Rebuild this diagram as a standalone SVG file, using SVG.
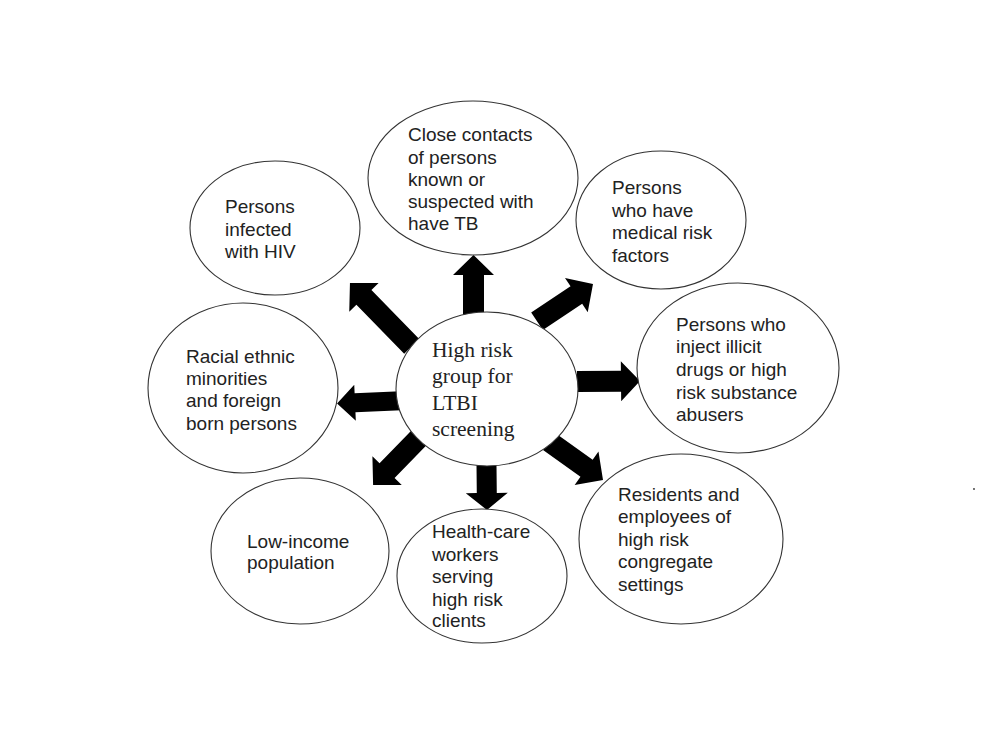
<svg xmlns="http://www.w3.org/2000/svg" width="994" height="748" viewBox="0 0 994 748">
<style>
.node ellipse{fill:#fff;stroke:#333;stroke-width:1.1}
.lbl{font-family:"Liberation Sans",Arial,sans-serif;font-size:19px;fill:#222}
.ctr{font-family:"Liberation Serif","Times New Roman",serif;font-size:21.5px;fill:#222}
.arr{fill:#000}
</style>
<rect width="994" height="748" fill="#fff"/>
<g id="connectors">
<path class="arr" transform="translate(473.5,313) rotate(-90)" d="M-6,-10.5 L38,-10.5 L38,-20.5 L58,0 L38,20.5 L38,10.5 L-6,10.5 Z"/>
<path class="arr" transform="translate(407.5,342) rotate(-134.3)" d="M-6,-10.5 L62.4,-10.5 L62.4,-20.5 L82.4,0 L62.4,20.5 L62.4,10.5 L-6,10.5 Z"/>
<path class="arr" transform="translate(542,318) rotate(-33.7)" d="M-6,-10.5 L41.3,-10.5 L41.3,-20.5 L61.3,0 L41.3,20.5 L41.3,10.5 L-6,10.5 Z"/>
<path class="arr" transform="translate(583,381.5) rotate(-0.5)" d="M-6,-10.5 L38,-10.5 L38,-20 L57,0 L38,20 L38,10.5 L-6,10.5 Z"/>
<path class="arr" transform="translate(395,401) rotate(177.5)" d="M-6,-9.5 L40,-9.5 L40,-18 L58,0 L40,18 L40,9.5 L-6,9.5 Z"/>
<path class="arr" transform="translate(415,442) rotate(134.3)" d="M-6,-10.5 L40,-10.5 L40,-20.5 L60,0 L40,20.5 L40,10.5 L-6,10.5 Z"/>
<path class="arr" transform="translate(486.5,465) rotate(89.4)" d="M-6,-10 L28,-10 L28,-21 L45,0 L28,21 L28,10 L-6,10 Z"/>
<path class="arr" transform="translate(554,445) rotate(35.5)" d="M-6,-10.5 L40,-10.5 L40,-20.5 L60.2,0 L40,20.5 L40,10.5 L-6,10.5 Z"/>
</g>
<g id="center" class="node">
<ellipse cx="487" cy="389" rx="91" ry="77"/>
<text class="ctr" x="432"><tspan x="432" y="357">High risk</tspan><tspan x="432" y="383">group for</tspan><tspan x="432" y="410">LTBI</tspan><tspan x="432" y="436">screening</tspan></text>
</g>
<g id="close-contacts" class="node">
<ellipse cx="473" cy="178" rx="105" ry="77"/>
<text class="lbl"><tspan x="408" y="141">Close contacts</tspan><tspan x="408" y="163.5">of persons</tspan><tspan x="408" y="186">known or</tspan><tspan x="408" y="208">suspected with</tspan><tspan x="408" y="230">have TB</tspan></text>
</g>
<g id="hiv" class="node">
<ellipse cx="275" cy="228" rx="85" ry="67"/>
<text class="lbl"><tspan x="225" y="213">Persons</tspan><tspan x="225" y="236">infected</tspan><tspan x="225" y="258">with HIV</tspan></text>
</g>
<g id="medical" class="node">
<ellipse cx="661" cy="220" rx="85" ry="69"/>
<text class="lbl"><tspan x="612" y="194">Persons</tspan><tspan x="612" y="217">who have</tspan><tspan x="612" y="239">medical risk</tspan><tspan x="612" y="262">factors</tspan></text>
</g>
<g id="inject" class="node">
<ellipse cx="738" cy="368" rx="101" ry="85"/>
<text class="lbl"><tspan x="676" y="331">Persons who</tspan><tspan x="676" y="353">inject illicit</tspan><tspan x="676" y="376">drugs or high</tspan><tspan x="676" y="399">risk substance</tspan><tspan x="676" y="421">abusers</tspan></text>
</g>
<g id="racial" class="node">
<ellipse cx="243" cy="388" rx="95" ry="85"/>
<text class="lbl"><tspan x="186" y="363">Racial ethnic</tspan><tspan x="186" y="385">minorities</tspan><tspan x="186" y="407">and foreign</tspan><tspan x="186" y="430">born persons</tspan></text>
</g>
<g id="low-income" class="node">
<ellipse cx="300" cy="551" rx="89" ry="73"/>
<text class="lbl"><tspan x="247" y="548">Low-income</tspan><tspan x="247" y="569">population</tspan></text>
</g>
<g id="health-care" class="node">
<ellipse cx="482" cy="576" rx="85" ry="67"/>
<text class="lbl"><tspan x="432" y="538">Health-care</tspan><tspan x="432" y="561">workers</tspan><tspan x="432" y="583">serving</tspan><tspan x="432" y="606">high risk</tspan><tspan x="432" y="627">clients</tspan></text>
</g>
<g id="residents" class="node">
<ellipse cx="681" cy="539" rx="102" ry="85"/>
<text class="lbl"><tspan x="618" y="501">Residents and</tspan><tspan x="618" y="523">employees of</tspan><tspan x="618" y="546">high risk</tspan><tspan x="618" y="568">congregate</tspan><tspan x="618" y="591">settings</tspan></text>
</g>
<circle cx="974" cy="489" r="0.9" fill="#333"/>
</svg>
